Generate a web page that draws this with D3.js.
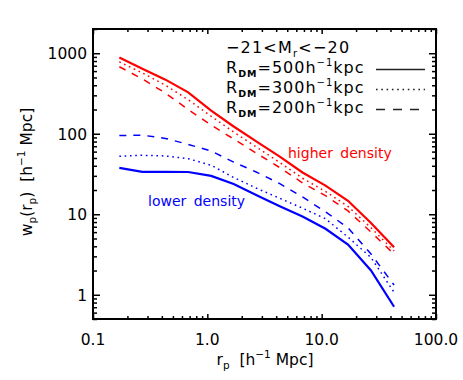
<!DOCTYPE html>
<html><head><meta charset="utf-8">
<script src="https://cdn.jsdelivr.net/npm/d3@7"></script>
<style>body{margin:0;background:#fff;} text{font-family:"DejaVu Sans",sans-serif;}</style>
</head><body>
<svg id="c" width="463" height="380"></svg>
<script>
const rp = [0.17, 0.27, 0.43, 0.68, 1.08, 1.7, 2.7, 4.3, 6.8, 10.8, 17, 27, 43];
const highR500 = [883, 640, 470, 327, 194, 123, 80, 52, 33, 22.7, 14.7, 7.8, 3.9];
const highR300 = [780, 570, 400, 265, 165, 105, 68, 44, 28, 19.2, 12.5, 6.8, 3.5];
const highR200 = [680, 480, 320, 200, 128, 86, 57, 38, 24.5, 17, 11, 6.0, 3.2];
const lowR500 = [37.6, 33.6, 33.6, 33.5, 30, 23.7, 17.2, 12.6, 9.4, 6.6, 4.2, 2.0, 0.71];
const lowR300 = [52.5, 54, 53, 49, 40.6, 28.6, 21, 15.8, 11.9, 8.8, 5.2, 2.9, 1.07];
const lowR200 = [95, 96, 87.5, 73.8, 61, 44.5, 33.3, 24, 16.4, 10.7, 6.8, 3.2, 1.32];
const xTickValues = [0.1, 1, 10, 100];
const xTickLabels = ["0.1", "1.0", "10.0", "100.0"];
const yTickValues = [1, 10, 100, 1000];
const yTickLabels = ["1", "10", "100", "1000"];
const legendLabels = ["500", "300", "200"];

const svg = d3.select("#c");
const L = 93, R = 436, T = 29, B = 319;
const x = d3.scaleLog().domain([0.1, 100]).range([L, R]);
const y = d3.scaleLog().domain([0.5, 2000]).range([B, T]);

const series = [
  {v: highR500, c: "#ff0000", d: null},
  {v: highR300, c: "#ff0000", d: "1.6,3.7"},
  {v: highR200, c: "#ff0000", d: "7,7"},
  {v: lowR500, c: "#0000ff", d: null},
  {v: lowR300, c: "#0000ff", d: "1.6,3.7"},
  {v: lowR200, c: "#0000ff", d: "7,7"}
];
const line = d3.line().x((d,i)=>x(rp[i])).y(d=>y(d));
series.forEach(s=>{
  svg.append("path").attr("d", line(s.v)).attr("fill","none")
    .attr("stroke", s.c).attr("stroke-width", s.d ? 1.5 : 2.2)
    .attr("stroke-dasharray", s.d);
});

const minorX = [], minorY = [];
[0.1,1,10].forEach(b=>{for(let k=2;k<=9;k++) minorX.push(b*k);});
[0.1,1,10,100,1000].forEach(b=>{for(let k=2;k<=9;k++){const v=b*k; if(v>=0.5&&v<=2000) minorY.push(v);}});
function axisG(axis, tr){ const g = svg.append("g").attr("transform", tr).call(axis);
  g.select(".domain").remove(); g.selectAll("text").remove();
  g.selectAll("line").attr("stroke","#000").attr("stroke-width",1.5); return g; }
axisG(d3.axisBottom(x).tickValues(xTickValues).tickSize(-5), `translate(0,${B})`);
axisG(d3.axisBottom(x).tickValues(minorX).tickSize(-3), `translate(0,${B})`);
axisG(d3.axisTop(x).tickValues(xTickValues).tickSize(-5), `translate(0,${T})`);
axisG(d3.axisTop(x).tickValues(minorX).tickSize(-3), `translate(0,${T})`);
axisG(d3.axisLeft(y).tickValues(yTickValues).tickSize(-7), `translate(${L},0)`);
axisG(d3.axisLeft(y).tickValues(minorY).tickSize(-4), `translate(${L},0)`);
axisG(d3.axisRight(y).tickValues(yTickValues).tickSize(-7), `translate(${R},0)`);
axisG(d3.axisRight(y).tickValues(minorY).tickSize(-4), `translate(${R},0)`);
svg.append("rect").attr("x",L).attr("y",T).attr("width",R-L).attr("height",B-T)
  .attr("fill","none").attr("stroke","#000").attr("stroke-width",2);

svg.selectAll(".xl").data(xTickValues).enter().append("text")
  .attr("x", d=>x(d)).attr("y", 345).attr("text-anchor","middle")
  .attr("font-size",15.5).text((d,i)=>xTickLabels[i]);
svg.selectAll(".yl").data(yTickValues).enter().append("text")
  .attr("x", 87).attr("y", d=>y(d)+6).attr("text-anchor","end")
  .attr("font-size",15.5).text((d,i)=>yTickLabels[i]);

const xt = svg.append("text").attr("x", 265).attr("y", 365).attr("text-anchor","middle").attr("font-size",15.5).attr("xml:space","preserve");
xt.append("tspan").text("r");
xt.append("tspan").attr("font-size",10.5).attr("dy",4).text("p");
xt.append("tspan").attr("dy",-4).text("  [h");
xt.append("tspan").attr("font-size",10.5).attr("dy",-7).text("−1");
xt.append("tspan").attr("dy",7).text(" Mpc]");

const yt = svg.append("text").attr("transform","translate(32,172) rotate(-90)").attr("text-anchor","middle").attr("font-size",15.5).attr("xml:space","preserve");
yt.append("tspan").text("w");
yt.append("tspan").attr("font-size",10.5).attr("dy",4).text("p");
yt.append("tspan").attr("dy",-4).text("(r");
yt.append("tspan").attr("font-size",10.5).attr("dy",4).text("p");
yt.append("tspan").attr("dy",-4).text(")  [h");
yt.append("tspan").attr("font-size",10.5).attr("dy",-7).text("−1");
yt.append("tspan").attr("dy",7).text(" Mpc]");

const t0 = svg.append("text").attr("x",226).attr("y",53).attr("font-size",16).attr("letter-spacing","1.2");
t0.append("tspan").text("−21<M");
t0.append("tspan").attr("font-size",10).attr("dy",4).text("r");
t0.append("tspan").attr("dy",-4).text("<−20");
const dashes = [null, "1.6,3.7", "9,8"];
legendLabels.forEach((lab,i)=>{
  const yy = 73 + 20*i;
  const t = svg.append("text").attr("x",226).attr("y",yy).attr("font-size",16).attr("letter-spacing","1");
  t.append("tspan").text("R");
  t.append("tspan").attr("font-size",9.5).attr("font-weight","bold").attr("dy",4).text("DM");
  t.append("tspan").attr("dy",-4).text("=" + lab + "h");
  t.append("tspan").attr("font-size",10).attr("dy",-7).text("−1");
  t.append("tspan").attr("dy",7).text("kpc");
  svg.append("line").attr("x1",376).attr("x2",425).attr("y1",yy-3.5).attr("y2",yy-3.5)
    .attr("stroke","#222").attr("stroke-width",1.4).attr("stroke-dasharray",dashes[i]);
});

svg.append("text").attr("x",288).attr("y",158).attr("font-size",14).attr("word-spacing","3")
  .attr("fill","#ff0000").text("higher density");
svg.append("text").attr("x",148).attr("y",206).attr("font-size",14).attr("word-spacing","3")
  .attr("fill","#0000ff").text("lower density");
</script>
</body></html>
